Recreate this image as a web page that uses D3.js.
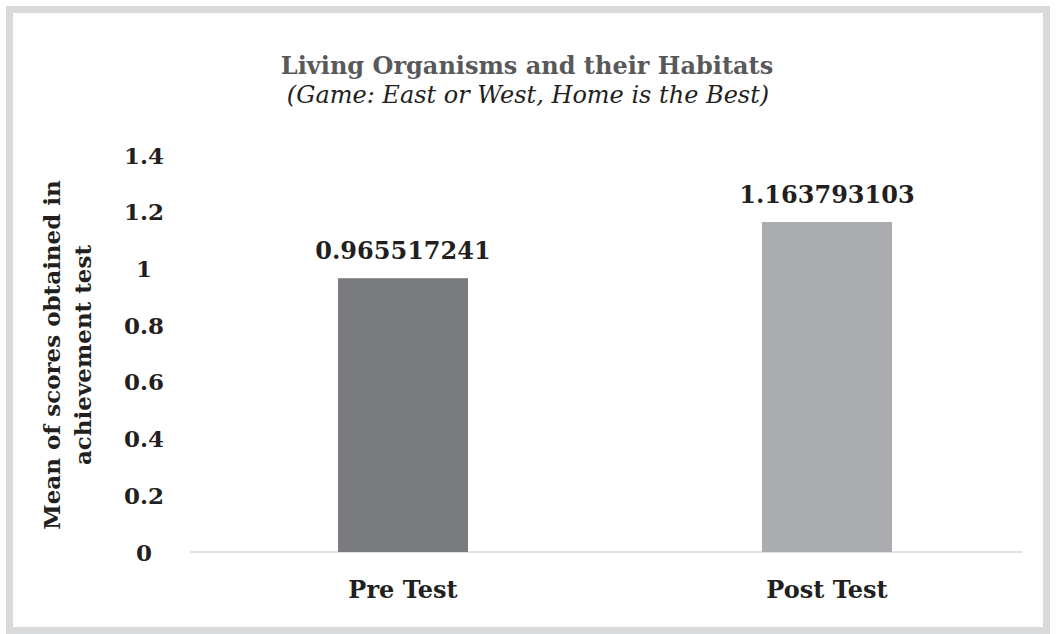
<!DOCTYPE html>
<html>
<head>
<meta charset="utf-8">
<script src="https://cdn.jsdelivr.net/npm/d3@7"></script>
<style>
  html, body { margin: 0; padding: 0; background: #fff; }
  svg { display: block; }
  text { font-family: "DejaVu Serif", serif; }
</style>
</head>
<body>
<div id="chart"></div>
<script>
// Chart content
const titleText = "Living Organisms and their Habitats";
const subtitleText = "(Game: East or West, Home is the Best)";
const yTitleLines = ["Mean of scores obtained in", "achievement test"];
const categories = ["Pre Test", "Post Test"];
const values = [0.965517241, 1.163793103];
const valueLabels = ["0.965517241", "1.163793103"];
const yTicks = [0, 0.2, 0.4, 0.6, 0.8, 1, 1.2, 1.4];
const barColors = ["#7a7b7f", "#abacb0"];

const W = 1056, H = 634;
const svg = d3.select("#chart").append("svg")
  .attr("width", W).attr("height", H);

// Outer frame
svg.append("rect")
  .attr("x", 9.5).attr("y", 9.5)
  .attr("width", W - 19).attr("height", H - 13)
  .attr("fill", "#fff")
  .attr("stroke", "#d9dadc").attr("stroke-width", 7);

// Scales
const x = d3.scaleBand().domain(categories).range([191, 1039]).paddingInner(0).paddingOuter(0);
const y = d3.scaleLinear().domain([0, 1.4]).range([552, 155]);
const barW = 130;

// Title
svg.append("text")
  .attr("x", 527).attr("y", 74)
  .attr("text-anchor", "middle")
  .attr("font-size", 24).attr("font-weight", "bold")
  .attr("fill", "#59595b")
  .text(titleText);
svg.append("text")
  .attr("x", 528).attr("y", 103)
  .attr("text-anchor", "middle")
  .attr("font-size", 24).attr("font-style", "italic")
  .attr("fill", "#231f20")
  .text(subtitleText);

// Y axis tick labels (no line)
const yAxis = d3.axisLeft(y).tickValues(yTicks).tickSize(0).tickFormat(d => d3.format("~g")(d));
const gy = svg.append("g").attr("transform", "translate(144,0)").call(yAxis);
gy.select(".domain").remove();
gy.selectAll("text")
  .attr("x", 0).attr("dy", "0.35em")
  .attr("text-anchor", "middle")
  .attr("font-family", "DejaVu Serif, serif")
  .attr("font-size", 23).attr("font-weight", "bold")
  .attr("fill", "#231f20");

// Baseline
svg.append("line")
  .attr("x1", 190).attr("x2", 1022)
  .attr("y1", y(0)).attr("y2", y(0))
  .attr("stroke", "#d9d9d9").attr("stroke-width", 1.5);

// Bars
svg.selectAll("rect.bar").data(categories).enter().append("rect")
  .attr("class", "bar")
  .attr("x", d => x(d) + x.bandwidth() / 2 - barW / 2)
  .attr("width", barW)
  .attr("y", (d, i) => y(values[i]))
  .attr("height", (d, i) => y(0) - y(values[i]))
  .attr("fill", (d, i) => barColors[i]);

// Value labels
svg.selectAll("text.val").data(categories).enter().append("text")
  .attr("class", "val")
  .attr("x", d => x(d) + x.bandwidth() / 2)
  .attr("y", (d, i) => y(values[i]) - 19)
  .attr("text-anchor", "middle")
  .attr("font-size", 24).attr("font-weight", "bold")
  .attr("fill", "#231f20")
  .text((d, i) => valueLabels[i]);

// X axis labels
const xAxis = d3.axisBottom(x).tickSize(0);
const gx = svg.append("g").attr("transform", `translate(0,${y(0)})`).call(xAxis);
gx.select(".domain").remove();
gx.selectAll("text")
  .attr("y", 46).attr("dy", 0)
  .attr("font-family", "DejaVu Serif, serif")
  .attr("font-size", 24).attr("font-weight", "bold")
  .attr("fill", "#231f20");

// Y axis title
const yt = svg.append("text")
  .attr("transform", "translate(0,355) rotate(-90)")
  .attr("text-anchor", "middle")
  .attr("font-size", 23).attr("font-weight", "bold")
  .attr("fill", "#231f20");
yt.selectAll("tspan").data(yTitleLines).enter().append("tspan")
  .attr("x", 0)
  .attr("y", (d, i) => 60 + i * 31)
  .text(d => d);
</script>
</body>
</html>
